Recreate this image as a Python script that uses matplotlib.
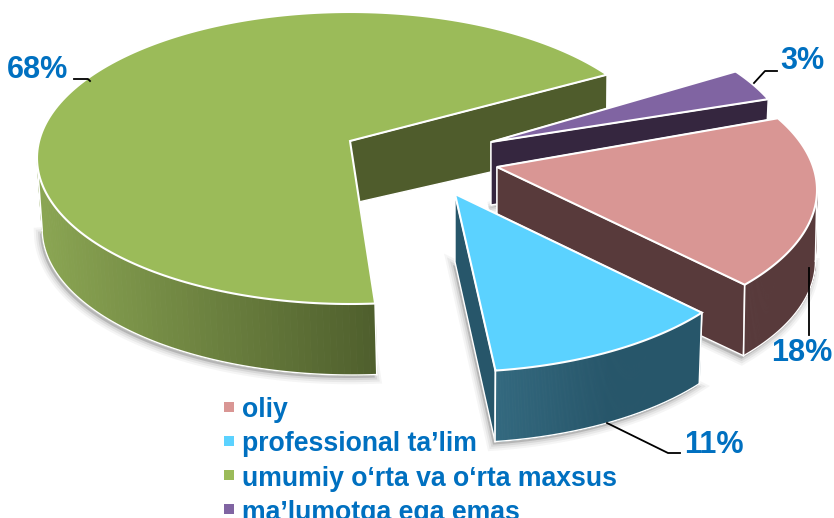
import numpy as np
import matplotlib
matplotlib.use('Agg')
import matplotlib.pyplot as plt
from matplotlib.collections import PolyCollection
from matplotlib.colors import to_rgb

plt.rcParams['font.family'] = ['Liberation Sans', 'DejaVu Sans']

# dati
categories = ['oliy', 'professional ta’lim', 'umumiy o‘rta va o‘rta maxsus', 'ma’lumotga ega emas']
shares = [18, 11, 68, 3]

# geometria di ogni fetta, in pixel: ellisse, apice e spostamento della base
ROT = 66.0
centers = [(505, 190), (452, 224), (350, 158), (481, 157)]
apexes = [(497, 167), (455, 194), (350, 141), (491, 142)]
radii = [(312, 148), (312, 148), (313, 146), (312, 148)]
depths = [71, 71, 71, 63]
apex_depths = [73, 68, 63, 63]
shrink = [0.995, 0.99, 0.99, 0.99]
base_dx = [0, 0, 2, 0]
nudge = [(-5, -1), (-4, 1.6), (5, 0), (-0.5, 1)]

top_col = ['#D99694', '#5BD2FF', '#9BBB59', '#8064A2']
wall_col = ['#583A3B', '#27566A', '#4F5C2C', '#35263F']
rim_left = ['#583A3B', '#33697F', '#8BA653', '#35263F']
rim_right = ['#583A3B', '#27566A', '#4F5F2D', '#35263F']
BLUE = '#0070C0'


def arc(i, t0, t1, lower=False, n=200):
    th = np.radians(np.linspace(t0, t1, n))
    cx, cy = centers[i]
    rx, ry = radii[i]
    if lower:
        return np.c_[cx + base_dx[i] + rx * shrink[i] * np.sin(th), cy + depths[i] - ry * np.cos(th)]
    return np.c_[cx + rx * np.sin(th), cy - ry * np.cos(th)]


fig = plt.figure(figsize=(8.34, 5.18), dpi=100)
ax = fig.add_axes([0, 0, 1, 1])
ax.set_xlim(0, 834)
ax.set_ylim(518, 0)
ax.axis('off')

# angoli di ogni fetta a partire dai valori
edges = ROT + np.cumsum([0] + shares) / sum(shares) * 360
spans = [(edges[i] + nudge[i][0], edges[i + 1] + nudge[i][1]) for i in range(4)]

# si disegna da dietro in avanti: verde, viola, rosa, azzurro
for order, i in enumerate([2, 3, 0, 1]):
    z = 10 * (order + 1)
    t0, t1 = spans[i]
    top = arc(i, t0, t1)
    low = arc(i, t0, t1, lower=True)
    apex = np.array(apexes[i], dtype=float)
    apex_low = apex + [0, apex_depths[i]]

    # bordo esterno: solo la parte davanti
    th = np.linspace(t0, t1, 200)
    vis = np.where(np.cos(np.radians(th)) < 0.0)[0]

    # ombra morbida sotto la base
    if len(vis) > 1:
        shadow = np.vstack([apex_low, low[vis]]) + [-2, 3]
    else:
        shadow = np.vstack([apex_low, low]) + [-2, 3]
    for lw, a in [(9, 0.05), (6, 0.07), (3, 0.10)]:
        ax.fill(shadow[:, 0], shadow[:, 1], fc='#404040', ec='#404040', lw=lw, alpha=a, zorder=z)

    # pareti di taglio
    for a_top, a_low in ((top[0], low[0]), (top[-1], low[-1])):
        wall = np.array([apex, a_top, a_low, apex_low])
        ax.fill(wall[:, 0], wall[:, 1], fc=wall_col[i], ec='white', lw=1.0, zorder=z + 1)

    if len(vis) > 1:
        xs = top[vis, 0]
        c_l, c_r = np.array(to_rgb(rim_left[i])), np.array(to_rgb(rim_right[i]))
        xmin, xmax = xs.min(), xs.max()
        if i == 1:
            xmax = xmin + (xmax - xmin) * 0.55
        quads, cols = [], []
        for a, b in zip(vis[:-1], vis[1:]):
            quads.append([top[a], top[b], low[b], low[a]])
            f = np.clip((top[a, 0] - xmin) / (xmax - xmin), 0, 1)
            cols.append(c_l + (c_r - c_l) * f)
        ax.add_collection(PolyCollection(quads, facecolors=cols, edgecolors=cols, linewidths=0.6, zorder=z + 2))
        ax.plot(low[vis, 0], low[vis, 1], color='white', lw=1.0, zorder=z + 3)
        # spigoli verticali della parete
        for a in (vis[0], vis[-1]):
            ax.plot([top[a, 0], low[a, 0]], [top[a, 1], low[a, 1]], color='white', lw=1.2, zorder=z + 3)

    # faccia superiore
    face = np.vstack([apex, top])
    ax.fill(face[:, 0], face[:, 1], fc=top_col[i], ec='white', lw=1.5, joinstyle='miter', zorder=z + 4)

# etichette
label_pos = [(802, 353), (714, 445), (38, 70), (802, 61)]
for v, (x, y) in zip(shares, label_pos):
    ax.text(x, y, f'{v}%', color=BLUE, fontsize=22, fontweight='bold', ha='center', va='center', zorder=70)

leaders = [([809, 809], [268, 335]),
           ([607, 668, 680], [423, 453, 453]),
           ([74, 88, 90], [79, 79, 81]),
           ([754, 765, 777], [83, 71, 71])]
for lx, ly in leaders:
    ax.plot(lx, ly, color='black', lw=1.3, zorder=69)

# legenda
for k, name in enumerate(categories):
    y = 407 + k * 34.3
    ax.plot([229.5], [y - 0.5], marker='s', ms=6.5, color=top_col[k], mew=0, zorder=70)
    ax.text(242, y, name, color=BLUE, fontsize=19.2, fontweight='bold', ha='left', va='center_baseline', zorder=70)

fig.savefig('out.png', dpi=100)
